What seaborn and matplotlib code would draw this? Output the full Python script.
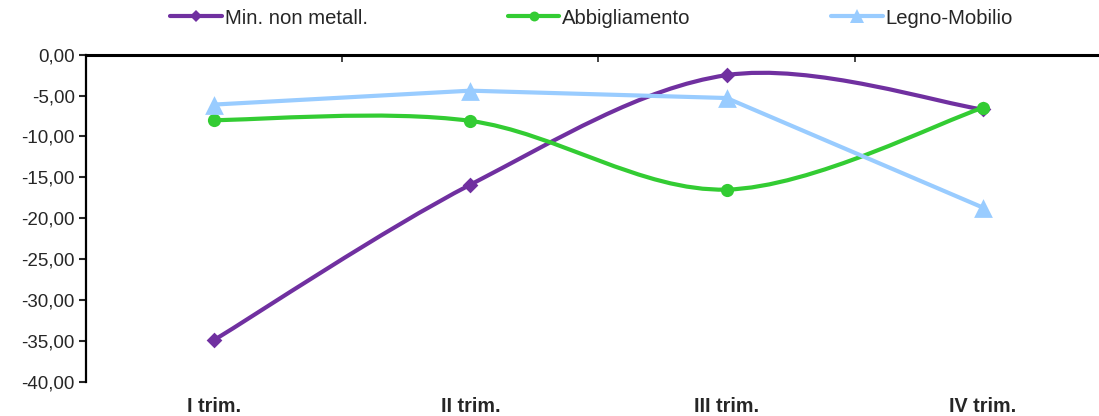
import matplotlib
matplotlib.use('Agg')
import matplotlib.pyplot as plt
import seaborn as sns
import numpy as np
import pandas as pd
from matplotlib.path import Path
from matplotlib.patches import PathPatch
from matplotlib.lines import Line2D

# dati
trimestri = ['I trim.', 'II trim.', 'III trim.', 'IV trim.']
min_non_metall = [-34.9, -15.9, -2.5, -6.7]
abbigliamento = [-8.0, -8.1, -16.5, -6.5]
legno_mobilio = [-6.1, -4.4, -5.3, -18.7]

serie = ['Min. non metall.', 'Abbigliamento', 'Legno-Mobilio']
colori = ['#7030A0', '#33CC33', '#99CCFF']
marker = ['D', 'o', '^']
msize = [8, 9.5, 13.5]
liscia = [True, True, False]   # Legno-Mobilio e' a segmenti dritti

df = pd.DataFrame({
    'trimestre': trimestri * 3,
    'x': list(range(len(trimestri))) * 3,
    'serie': np.repeat(serie, len(trimestri)),
    'valore': min_non_metall + abbigliamento + legno_mobilio,
})

sns.set_style('white')
plt.rcParams['font.family'] = ['Liberation Sans', 'DejaVu Sans']

fig = plt.figure(figsize=(10.99, 4.16), dpi=100)
ax = fig.add_axes([86 / 1099, 1 - 381.7 / 416, 1025 / 1099, (381.7 - 54.7) / 416])


def smooth_path(xs, ys, smooth=True):
    # curva liscia tipo Excel (Catmull-Rom -> Bezier)
    pts = np.column_stack([xs, ys]).astype(float)
    if not smooth:
        return Path(pts)
    ext = np.vstack([pts[0], pts, pts[-1]])
    verts = [tuple(pts[0])]
    codes = [Path.MOVETO]
    for i in range(len(pts) - 1):
        p0, p1, p2, p3 = ext[i], ext[i + 1], ext[i + 2], ext[i + 3]
        c1 = p1 + (p2 - p0) / 6
        c2 = p2 - (p3 - p1) / 6
        verts += [tuple(c1), tuple(c2), tuple(p2)]
        codes += [Path.CURVE4] * 3
    return Path(verts, codes)


for k, (nome, col) in enumerate(zip(serie, colori)):
    sub = df[df['serie'] == nome]
    patch = PathPatch(smooth_path(sub['x'], sub['valore'], liscia[k]),
                      facecolor='none', edgecolor=col, lw=3.0, zorder=2 + k,
                      capstyle='round', joinstyle='round')
    ax.add_patch(patch)
    sns.scatterplot(data=sub, x='x', y='valore', color=col, marker=marker[k],
                    s=msize[k] ** 2, edgecolor=col, linewidth=0, ax=ax,
                    zorder=2.5 + k, legend=False)

ax.set_xlim(-0.5, 3.5)
ax.set_ylim(-40, 0)
ax.set_yticks(np.arange(-40, 1, 5))
ax.set_yticklabels([f'{v:.2f}'.replace('.', ',') for v in np.arange(-40, 1, 5)],
                   fontsize=13.5)
ax.set_xlabel('')
ax.set_ylabel('')

# asse categorie sulla linea dello zero, etichette in basso
ax.set_xticks([0.5, 1.5, 2.5])
ax.set_xticklabels([])
ax.set_xticks(range(len(trimestri)), minor=True)
ax.set_xticklabels(trimestri, minor=True, fontweight='bold', fontsize=14.2)
ax.tick_params(axis='x', which='major', top=True, bottom=False, direction='in',
               length=5, width=1.2, labeltop=False, labelbottom=False)
ax.tick_params(axis='x', which='minor', bottom=True, top=False, length=0, pad=11)
ax.tick_params(axis='y', which='major', left=True, direction='out', length=5,
               width=1.5, pad=3)

for s in ['right', 'bottom']:
    ax.spines[s].set_visible(False)
ax.spines['top'].set_linewidth(2.2)
ax.spines['left'].set_linewidth(1.6)
ax.spines['top'].set_color('black')
ax.spines['left'].set_color('black')

handles = [Line2D([], [], color=c, lw=3.0, marker=m, markersize=ms * 0.75,
                  markeredgewidth=0) for c, m, ms in zip(colori, marker, msize)]
fig.legend(handles, serie, loc='center left', bbox_to_anchor=(170 / 1099, 1 - 18 / 416),
           ncol=3, frameon=False, prop={'size': 14.6},
           handlelength=2.55, handletextpad=0.15, columnspacing=6.9,
           borderaxespad=0, borderpad=0)

fig.savefig('out.png', dpi=100)
